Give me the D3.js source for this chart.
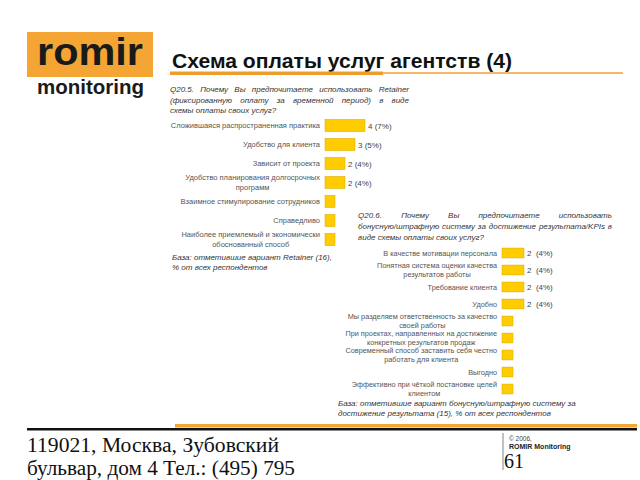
<!DOCTYPE html>
<html><head><meta charset="utf-8">
<script src="https://cdn.jsdelivr.net/npm/d3@7"></script>
<style>body{margin:0;background:#fff}svg{display:block}</style>
</head><body>
<svg id="c" width="640" height="480"></svg>
<script>
// ---- data ----
const categories1 = [
  ["Сложившаяся распространенная практика"],
  ["Удобство для клиента"],
  ["Зависит от проекта"],
  ["Удобство планирования долгосрочных", "программ"],
  ["Взаимное стимулирование сотрудников"],
  ["Справедливо"],
  ["Наиболее приемлемый и экономически", "обоснованный способ"]
];
const values1 = [4, 3, 2, 2, 1, 1, 1];
const labels1 = ["4 (7%)", "3 (5%)", "2 (4%)", "2 (4%)", "", "", ""];

const categories2 = [
  ["В качестве мотивации персонала"],
  ["Понятная система оценки качества", "результатов работы"],
  ["Требование клиента"],
  ["Удобно"],
  ["Мы разделяем ответственность за качество", "своей работы"],
  ["При проектах, направленных на достижение", "конкретных результатов продаж"],
  ["Современный способ заставить себя честно", "работать для клиента"],
  ["Выгодно"],
  ["Эффективно при чёткой постановке целей", "клиентом"]
];
const values2 = [2, 2, 2, 2, 1, 1, 1, 1, 1];
const labels2 = ["2  (4%)", "2  (4%)", "2  (4%)", "2  (4%)", "", "", "", "", ""];

const q1 = ["Q20.5. Почему Вы предпочитаете использовать Retainer",
            "(фиксированную оплату за временной период) в виде",
            "схемы оплаты своих услуг?"];
const q2 = ["Q20.6. Почему Вы предпочитаете использовать",
            "бонусную/штрафную систему за достижение результата/KPIs в",
            "виде схемы оплаты своих услуг?"];
const base1 = ["База: отметившие вариант Retainer (16),", "% от всех респондентов"];
const base2 = ["База: отметившие вариант бонусную/штрафную систему за",
               "достижение результата (15), % от всех респондентов"];

const svg = d3.select("#c");
const ORANGE = "#f4a533";
const SANS = "'Liberation Sans', Arial, sans-serif";
const SERIF = "'Liberation Serif', 'Times New Roman', serif";

// ---- logo ----
svg.append("rect").attr("x", 27).attr("y", 32).attr("width", 126).attr("height", 45).attr("fill", ORANGE);
svg.append("text").attr("x", 37).attr("y", 65).attr("font-family", SANS).attr("font-weight", "bold")
  .attr("font-size", 38).attr("fill", "#1a1a1a").attr("textLength", 106).attr("lengthAdjust", "spacingAndGlyphs").text("romir");
svg.append("text").attr("x", 37).attr("y", 94).attr("font-family", SANS).attr("font-weight", "bold")
  .attr("font-size", 20.5).attr("fill", "#1a1a1a").attr("textLength", 107).attr("lengthAdjust", "spacingAndGlyphs").text("monitoring");

// ---- title ----
svg.append("text").attr("x", 172).attr("y", 68).attr("font-family", SANS).attr("font-weight", "bold")
  .attr("font-size", 20).attr("fill", "#111").attr("textLength", 340).attr("lengthAdjust", "spacingAndGlyphs")
  .text("Схема оплаты услуг агентств (4)");
svg.append("rect").attr("x", 170).attr("y", 72).attr("width", 453).attr("height", 2).attr("fill", "#f6b868");
svg.append("rect").attr("x", 170).attr("y", 71.5).attr("width", 213).attr("height", 3.5).attr("fill", "#ef9d2a");

// ---- helper: justified italic paragraph (word-spaced) ----
function para(lines, x, y0, lh, width, justify) {
  lines.forEach((t, i) => {
    const el = svg.append("text").attr("x", x).attr("y", y0 + i * lh)
      .attr("font-family", SANS).attr("font-style", "italic").attr("font-size", 8)
      .attr("fill", "#333").text(t);
    if (justify && i < lines.length - 1) {
      const nat = el.node().getComputedTextLength();
      const gaps = t.split(" ").length - 1;
      if (gaps > 0 && width > nat) el.attr("word-spacing", (width - nat) / gaps);
    }
  });
}
para(q1, 170, 92, 10.5, 239, true);
para(q2, 358, 218, 11, 254, true);
para(base1, 172, 260, 10, 0, false);
para(base2, 338, 406, 10, 0, false);

// ---- bar chart helper ----
function chart(cats, vals, labs, x0, yRange, xMax, pxMax, pad, lh, fs) {
  const y = d3.scaleBand().domain(d3.range(cats.length)).range(yRange).paddingInner(pad).paddingOuter(pad / 2);
  const x = d3.scaleLinear().domain([0, xMax]).range([x0, x0 + pxMax]);
  const g = svg.append("g");
  g.selectAll("rect").data(vals).join("rect")
    .attr("x", x(0)).attr("y", (d, i) => y(i)).attr("height", y.bandwidth())
    .attr("width", d => x(d) - x(0)).attr("fill", "#ffcc00").attr("stroke", "#d8a800").attr("stroke-width", 0.5);
  g.selectAll("text.v").data(labs).join("text").attr("class", "v")
    .attr("x", (d, i) => x(vals[i]) + 3).attr("y", (d, i) => y(i) + y.bandwidth() / 2 + 3)
    .attr("font-family", SANS).attr("font-size", 8).attr("fill", "#444").attr("xml:space", "preserve").text(d => d);
  const right = x0 - 5;
  cats.forEach((lines, i) => {
    const cy = y(i) + y.bandwidth() / 2;
    const top = cy - (lines.length - 1) * lh / 2 + 2.6;
    const els = lines.map((t, k) => g.append("text").attr("y", top + k * lh)
      .attr("font-family", SANS).attr("font-size", fs).attr("fill", "#555").text(t));
    const w = Math.max(...els.map(e => e.node().getComputedTextLength()));
    els.forEach(e => e.attr("x", right - w / 2).attr("text-anchor", "middle"));
  });
}
chart(categories1, values1, labels1, 325, [116, 249], 4, 40, 0.36, 10, 7.5);
chart(categories2, values2, labels2, 502, [244.5, 397.5], 2, 22, 0.42, 8.6, 7.3);

// ---- footer ----
svg.append("rect").attr("x", 175).attr("y", 424).attr("width", 462).attr("height", 3.5).attr("fill", ORANGE);
svg.append("rect").attr("x", 27).attr("y", 428).attr("width", 610).attr("height", 2.5).attr("fill", "#111");
svg.append("text").attr("x", 27).attr("y", 452).attr("font-family", SERIF).attr("font-size", 20).attr("fill", "#111")
  .attr("textLength", 252).attr("lengthAdjust", "spacingAndGlyphs").text("119021, Москва, Зубовский");
svg.append("text").attr("x", 27).attr("y", 475).attr("font-family", SERIF).attr("font-size", 20).attr("fill", "#111")
  .attr("textLength", 268).attr("lengthAdjust", "spacingAndGlyphs").text("бульвар, дом 4 Тел.: (495) 795");
svg.append("line").attr("x1", 503).attr("x2", 503).attr("y1", 433).attr("y2", 470).attr("stroke", "#666").attr("stroke-width", 0.8);
svg.append("text").attr("x", 504).attr("y", 468).attr("font-family", SERIF).attr("font-size", 20).attr("fill", "#111").text("61");
svg.append("text").attr("x", 509).attr("y", 441).attr("font-family", SANS).attr("font-size", 6.5).attr("fill", "#444").text("© 2006,");
svg.append("text").attr("x", 509).attr("y", 449).attr("font-family", SANS).attr("font-weight", "bold").attr("font-size", 7).attr("fill", "#222").text("ROMIR Monitoring");
</script>
</body></html>
